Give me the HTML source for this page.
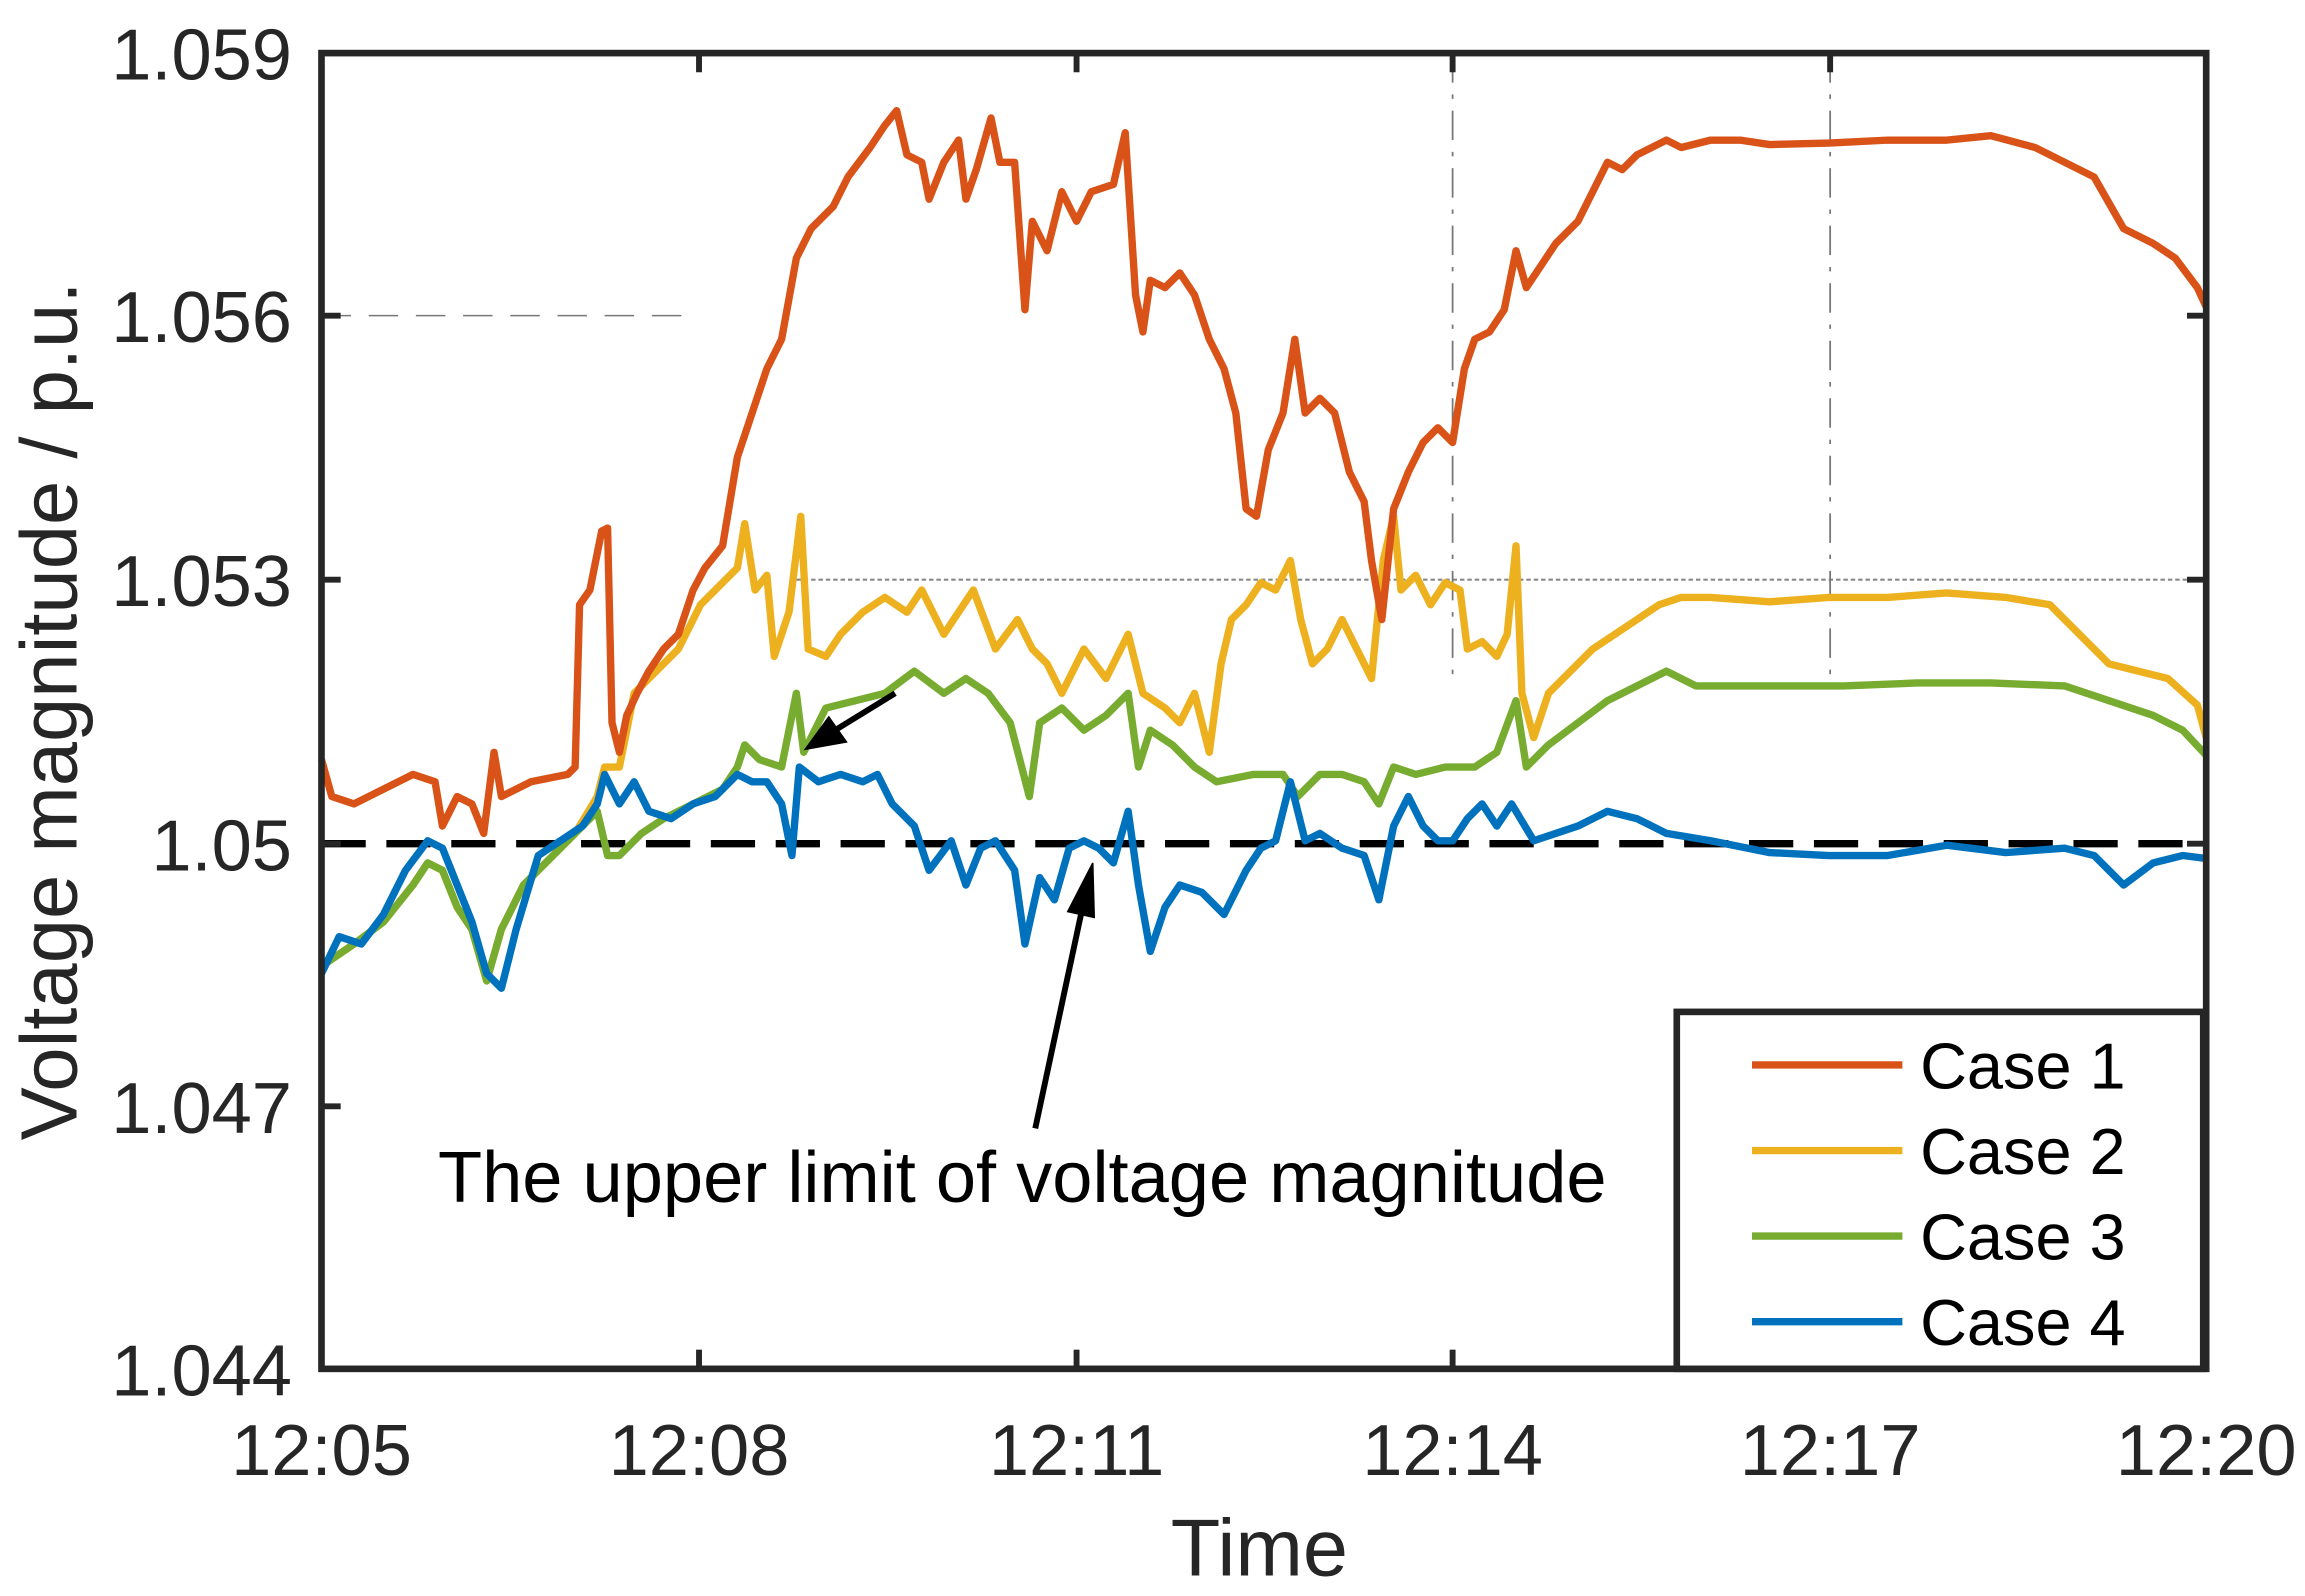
<!DOCTYPE html>
<html><head><meta charset="utf-8"><style>
html,body{margin:0;padding:0;background:#fff;}
svg{display:block;}
text{font-family:"Liberation Sans",Arial,sans-serif;}
</style></head><body>
<svg width="2305" height="1596" viewBox="0 0 1563 1082" preserveAspectRatio="none" xmlns="http://www.w3.org/2000/svg">
<rect width="1563" height="1082" fill="#fff"/>
<line x1="218" y1="214" x2="468" y2="214" stroke="#777" stroke-width="1" stroke-dasharray="20,12"/>
<line x1="540" y1="393" x2="1496" y2="393" stroke="#888" stroke-width="1.5" stroke-dasharray="3,2"/>
<line x1="985" y1="36" x2="985" y2="460" stroke="#777" stroke-width="1.2" stroke-dasharray="20,8,3,8"/>
<line x1="1241" y1="36" x2="1241" y2="460" stroke="#777" stroke-width="1.2" stroke-dasharray="20,8,3,8"/>
<line x1="218" y1="572" x2="1496" y2="572" stroke="#000" stroke-width="5" stroke-dasharray="30,14"/>
<g fill="none" stroke-width="5" stroke-linejoin="round">
<polyline stroke="#EDB120" points="218,655 240,640 260,625 280,600 290,585 300,590 310,615 320,630 330,665 340,630 355,600 370,585 390,565 405,540 410,520 420,520 430,470 440,460 460,440 475,410 490,395 500,385 505,355 512,400 520,390 525,445 535,415 543,350 548,440 560,445 570,430 585,415 600,405 615,415 625,400 640,430 660,400 675,440 690,420 700,440 710,450 720,470 735,440 750,460 765,430 775,470 790,480 800,490 810,470 820,510 828,450 835,420 845,410 855,395 865,400 875,380 882,420 890,450 900,440 910,420 920,440 930,460 938,380 945,350 950,400 960,390 970,410 980,395 990,400 995,440 1005,435 1015,445 1022,430 1028,370 1032,470 1040,500 1050,470 1065,455 1080,440 1095,430 1110,420 1125,410 1140,405 1160,405 1200,408 1240,405 1280,405 1320,402 1360,405 1390,410 1410,430 1430,450 1450,455 1470,460 1490,478 1496,500"/>
<polyline stroke="#77AC30" points="218,655 240,640 260,625 280,600 290,585 300,590 310,615 320,630 330,665 340,630 355,600 370,585 390,565 405,550 412,580 420,580 435,565 450,555 470,545 490,535 500,520 505,505 515,515 530,520 540,470 545,510 560,480 580,475 600,470 620,455 640,470 655,460 670,470 685,490 698,540 705,490 720,480 735,495 750,485 765,470 772,520 780,495 795,505 810,520 825,530 850,525 870,525 880,540 895,525 910,525 925,530 935,545 945,520 960,525 980,520 1000,520 1015,510 1028,475 1035,520 1050,505 1070,490 1090,475 1110,465 1130,455 1150,465 1200,465 1250,465 1300,463 1350,463 1400,465 1430,475 1460,485 1480,495 1496,512"/>
<polyline stroke="#0072BD" points="218,660 230,635 245,640 260,620 275,590 290,570 300,575 310,600 320,625 330,660 340,670 350,630 365,580 380,570 395,560 405,545 410,525 420,545 430,530 440,550 455,555 470,545 485,540 500,525 510,530 520,530 530,545 537,580 542,520 555,530 570,525 585,530 595,525 605,545 620,560 630,590 645,570 655,600 665,575 675,570 688,590 695,640 705,595 715,610 725,575 735,570 745,575 755,585 765,550 772,600 780,645 790,615 800,600 815,605 830,620 845,590 855,575 865,570 875,530 885,570 895,565 910,575 925,580 935,610 945,560 955,540 965,560 975,570 985,570 995,555 1005,545 1015,560 1025,545 1040,570 1055,565 1070,560 1090,550 1110,555 1130,565 1160,570 1200,578 1240,580 1280,580 1320,573 1360,578 1400,575 1420,580 1440,600 1460,585 1480,580 1496,582"/>
<polyline stroke="#D95319" points="218,515 225,540 240,545 260,535 280,525 295,530 300,560 310,540 320,545 328,565 335,510 340,540 360,530 385,525 390,520 393,410 400,400 408,360 412,358 415,490 420,510 425,485 432,470 440,455 450,440 460,430 470,400 478,385 490,370 500,310 510,280 520,250 530,230 540,175 550,155 565,140 575,120 590,100 600,85 608,75 615,105 625,110 630,135 640,110 650,95 655,135 662,115 672,80 678,110 688,110 695,210 700,150 710,170 720,130 730,150 740,130 755,125 763,90 770,200 775,225 780,190 790,195 800,185 810,200 820,230 830,250 838,280 845,345 852,350 860,305 870,280 878,230 885,280 895,270 905,280 915,320 925,340 930,380 937,420 945,345 955,320 965,300 975,290 985,300 993,250 1000,230 1010,225 1020,210 1028,170 1035,195 1045,180 1055,165 1070,150 1080,130 1090,110 1100,115 1110,105 1120,100 1130,95 1140,100 1160,95 1180,95 1200,98 1240,97 1280,95 1320,95 1350,92 1380,100 1400,110 1420,120 1440,155 1460,165 1475,175 1490,195 1496,208"/>
</g>
<rect x="218" y="36" width="1278" height="892" fill="none" stroke="#262626" stroke-width="4.5"/>
<g stroke="#262626" stroke-width="4">
<line x1="218" y1="214" x2="231" y2="214"/><line x1="218" y1="393" x2="231" y2="393"/><line x1="218" y1="572" x2="231" y2="572"/><line x1="218" y1="750" x2="231" y2="750"/>
<line x1="1496" y1="214" x2="1483" y2="214"/><line x1="1496" y1="393" x2="1483" y2="393"/><line x1="1496" y1="572" x2="1483" y2="572"/><line x1="1496" y1="750" x2="1483" y2="750"/>
<line x1="474" y1="928" x2="474" y2="915"/><line x1="730" y1="928" x2="730" y2="915"/><line x1="985" y1="928" x2="985" y2="915"/><line x1="1241" y1="928" x2="1241" y2="915"/>
<line x1="474" y1="36" x2="474" y2="49"/><line x1="730" y1="36" x2="730" y2="49"/><line x1="985" y1="36" x2="985" y2="49"/><line x1="1241" y1="36" x2="1241" y2="49"/>
</g>
<g font-size="49" fill="#262626" text-anchor="end">
<text x="198" y="54">1.059</text><text x="198" y="232">1.056</text><text x="198" y="411">1.053</text><text x="198" y="590">1.05</text><text x="198" y="768">1.047</text><text x="198" y="946">1.044</text>
</g>
<g font-size="49" fill="#262626" text-anchor="middle">
<text x="218" y="1000">12:05</text><text x="474" y="1000">12:08</text><text x="730" y="1000">12:11</text><text x="985" y="1000">12:14</text><text x="1241" y="1000">12:17</text><text x="1496" y="1000">12:20</text>
</g>
<text x="854" y="1068" font-size="55" fill="#262626" text-anchor="middle">Time</text>
<text transform="translate(52,482) rotate(-90)" font-size="54" fill="#262626" text-anchor="middle">Voltage magnitude / p.u.</text>
<text x="297" y="815" font-size="49" fill="#000">The upper limit of voltage magnitude</text>
<g stroke="#000" stroke-width="4" fill="#000">
<line x1="702" y1="765" x2="733" y2="620"/>
<polygon points="741,585 724,618 742,622" stroke-width="1"/>
<line x1="607" y1="470" x2="568" y2="494"/>
<polygon points="546,508 562,486 574,503" stroke-width="1"/>
</g>
<rect x="1137" y="686" width="357" height="242" fill="#fff" stroke="#262626" stroke-width="4.5"/>
<g stroke-width="5">
<line x1="1188" y1="722" x2="1290" y2="722" stroke="#D95319"/>
<line x1="1188" y1="780" x2="1290" y2="780" stroke="#EDB120"/>
<line x1="1188" y1="838" x2="1290" y2="838" stroke="#77AC30"/>
<line x1="1188" y1="896" x2="1290" y2="896" stroke="#0072BD"/>
</g>
<g font-size="44" fill="#000">
<text x="1302" y="738">Case 1</text><text x="1302" y="796">Case 2</text><text x="1302" y="854">Case 3</text><text x="1302" y="912">Case 4</text>
</g>
</svg>
</body></html>
